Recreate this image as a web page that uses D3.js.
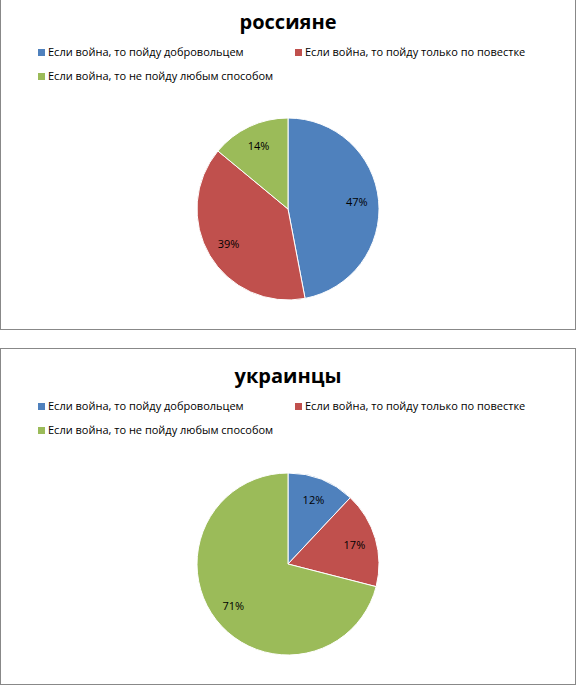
<!DOCTYPE html>
<html><head><meta charset="utf-8">
<script src="https://cdn.jsdelivr.net/npm/d3@7"></script>
<style>body{margin:0;background:#fff}</style>
</head><body>
<svg id="c" width="576" height="686"></svg>
<script>
// data
var categories = ["Если война, то пойду добровольцем", "Если война, то пойду только по повестке", "Если война, то не пойду любым способом"];
var titles = ["россияне", "украинцы"];
var russians = [47, 39, 14];
var ukrainians = [12, 17, 71];
var colors = ["#4f81bd", "#c0504d", "#9bbb59"];

var svg = d3.select("#c");
var font = "'Open Sans', 'Liberation Sans', sans-serif";

function draw_panel(top, height, title, values, hasTopBorder) {
    var g = svg.append("g").attr("transform", "translate(0," + top + ")");
    // panel border
    g.append("rect").attr("x", 0.5).attr("y", hasTopBorder ? 0.5 : -5)
        .attr("width", 575).attr("height", hasTopBorder ? height : height + 5.5)
        .attr("fill", "none").attr("stroke", "#888");
    g.append("text").attr("x", 288).attr("y", hasTopBorder ? 35 : 29)
        .attr("text-anchor", "middle").style("font-family", font)
        .style("font-size", "20px").style("font-weight", "bold").text(title);
    var ly = hasTopBorder ? 62 : 56;
    // legend
    var pos = [[38, ly], [295, ly], [38, ly + 24]];
    categories.forEach(function (c, i) {
        var lg = g.append("g").attr("transform", "translate(" + pos[i][0] + "," + pos[i][1] + ")");
        lg.append("rect").attr("x", 0).attr("y", -7).attr("width", 7).attr("height", 7).attr("fill", colors[i]);
        lg.append("text").attr("x", 10).attr("y", 0).style("font-family", font)
            .style("font-size", "11px").text(c);
    });
    var cy = hasTopBorder ? 216 : 209;
    var r = 91;
    var pie = d3.pie().sort(null).value(function (d) { return d; });
    var arc = d3.arc().innerRadius(0).outerRadius(r);
    var lab = d3.arc().innerRadius(r * 0.76).outerRadius(r * 0.76);
    var pg = g.append("g").attr("transform", "translate(288," + cy + ")");
    var arcs = pie(values);
    pg.selectAll("path").data(arcs).enter().append("path")
        .attr("d", arc).attr("fill", function (d, i) { return colors[i]; })
        .attr("stroke", "#fff").attr("stroke-width", 1);
    pg.selectAll("text").data(arcs).enter().append("text")
        .attr("transform", function (d) { return "translate(" + lab.centroid(d) + ")"; })
        .attr("text-anchor", "middle").attr("dy", "0.35em")
        .style("font-family", font).style("font-size", "11px")
        .text(function (d) { return d.data + "%"; });
}

draw_panel(0, 329, titles[0], russians, false);
draw_panel(348, 336, titles[1], ukrainians, true);
</script>
</body></html>
